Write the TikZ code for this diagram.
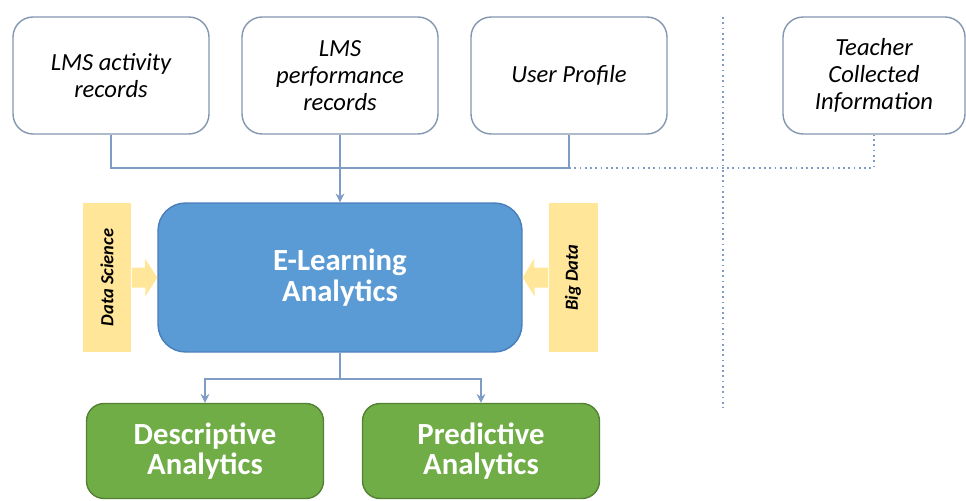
\documentclass[tikz,border=0pt]{standalone}
\usepackage{fontspec}
\setmainfont{Carlito}
\usetikzlibrary{arrows.meta,calc}
\definecolor{frame}{HTML}{8497B0}
\definecolor{lnk}{HTML}{7F9CC4}
\definecolor{elblue}{HTML}{5B9BD5}
\definecolor{elline}{HTML}{4A7EBB}
\definecolor{grn}{HTML}{70AD47}
\definecolor{grnline}{HTML}{548235}
\definecolor{ylw}{HTML}{FFE699}
\tikzset{
  src/.style={draw=frame, line width=0.8pt, rounded corners=0.4cm, fill=white, minimum width=3.92cm, minimum height=2.34cm, align=center, font=\fontsize{14}{15.5}\selectfont\itshape},
  core/.style={draw=elline, line width=0.8pt, fill=elblue, rounded corners=0.55cm, minimum width=7.28cm, minimum height=2.98cm, align=center, text=white, font=\fontsize{17.5}{17.5}\selectfont\bfseries},
  outc/.style={draw=grnline, line width=0.8pt, fill=grn, rounded corners=0.35cm, minimum width=4.74cm, minimum height=1.9cm, align=center, text=white, font=\fontsize{17.5}{17.5}\selectfont\bfseries},
  side/.style={fill=ylw, minimum width=0.98cm, minimum height=2.98cm, inner sep=0pt},
  sidetext/.style={rotate=90, font=\fontsize{10.5}{12}\selectfont\bfseries\itshape},
  link/.style={draw=lnk, line width=1pt},
  feed/.style={link, -{Stealth[length=5pt,width=5pt]}},
  dotlink/.style={draw=lnk, line width=1pt, dotted},
}
\begin{document}
\begin{tikzpicture}[x=0.02cm, y=-0.02cm]
 \useasboundingbox (0,0) rectangle (966,500);
 % data sources
 \node[src] (act)   at (111,75.5) {LMS activity\\records};
 \node[src] (perf)  at (340,75.5) {LMS\\performance\\records};
 \node[src] (prof)  at (569,75.5) {User Profile};
 \node[src, minimum width=3.64cm] (teach) at (874,75.5) {Teacher\\Collected\\Information};
 % analytics core
 \node[core] (el) at (340,277.5) {E-Learning\\Analytics};
 \node[side] (dsbar) at (107,277.5) {};
 \node[sidetext] (ds) at (dsbar) {Data Science};
 \node[side] (bdbar) at (573,277.5) {};
 \node[sidetext] (bd) at (bdbar) {Big Data};
 % outcomes
 \node[outc] (desc) at (205,451) {Descriptive\\Analytics};
 \node[outc] (pred) at (481,451) {Predictive\\Analytics};
 % feeding arrows
 \fill[ylw] ($(dsbar.east)+(0,-10)$) -- ++(13,0) -- ++(0,-9) -- (el.west) -- ++(-12,19) -- ++(0,-9) -- ($(dsbar.east)+(0,10)$) -- cycle;
 \fill[ylw] ($(bdbar.west)+(0,-10)$) -- ++(-14,0) -- ++(0,-9) -- (el.east) -- ++(12,19) -- ++(0,-9) -- ($(bdbar.west)+(0,10)$) -- cycle;
 % connectors
 \coordinate (bus) at (340,168);
 \draw[link] (act.south) |- (bus) -| (prof.south);
 \draw[dotlink] (bus -| prof.south) -| (teach.south);
 \draw[feed] (perf.south) -- (el.north);
 \coordinate (divtop) at (723,17);
 \coordinate (divbot) at (723,408);
 \draw[dotlink] (divtop) -- (divbot);
 \draw[link] (el.south) -- ++(0,26) coordinate (split);
 \draw[feed] (split) -| (desc.north);
 \draw[feed] (split) -| (pred.north);
\end{tikzpicture}
\end{document}
